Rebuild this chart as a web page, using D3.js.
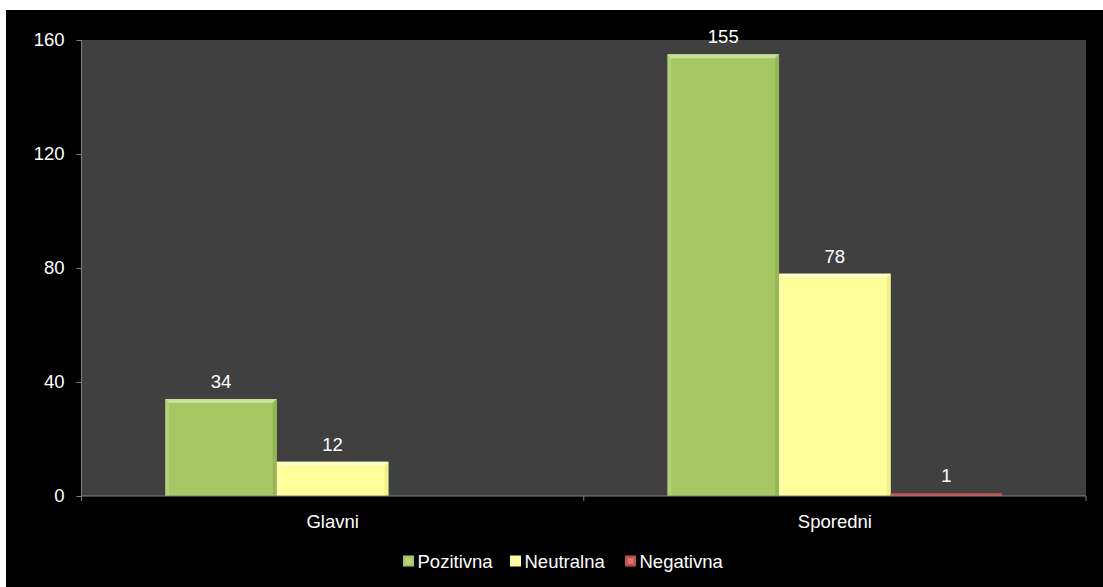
<!DOCTYPE html>
<html><head><meta charset="utf-8">
<script src="https://cdn.jsdelivr.net/npm/d3@7"></script>
<style>
html,body{margin:0;padding:0;background:#fff;}
svg{display:block;font-family:"Liberation Sans",Arial,sans-serif;}
</style></head>
<body><svg id="c" width="1103" height="587"></svg>
<script>
const categories = ["Glavni", "Sporedni"];
const seriesNames = ["Pozitivna", "Neutralna", "Negativna"];
const pozitivna = [34, 155];
const neutralna = [12, 78];
const negativna = [null, 1];
const yTicks = [0, 40, 80, 120, 160];

const colors = {Pozitivna:"#A5C663", Neutralna:"#FFFF99", Negativna:"#C0504D"};
const light = {Pozitivna:"#C9E19A", Neutralna:"#FFFFC8", Negativna:"#DE8F8D"};
const dark = {Pozitivna:"#8BAE4E", Neutralna:"#E6E683", Negativna:"#9E3B38"};

const values = {Pozitivna: pozitivna, Neutralna: neutralna, Negativna: negativna};
const FS = 18.5;

const svg = d3.select("#c");
svg.append("rect").attr("x",6).attr("y",10).attr("width",1097).attr("height",577).attr("fill","#000");

const L=81.5, R=1086, T=40, B=496;
svg.append("rect").attr("x",L).attr("y",T).attr("width",R-L).attr("height",B-T).attr("fill","#404040");

const x0 = d3.scaleBand().domain(categories).range([L,R]).paddingInner(0).paddingOuter(0);
const x1 = d3.scaleBand().domain(seriesNames).range([0,x0.bandwidth()]).paddingInner(0).paddingOuter(0.75);
const y = d3.scaleLinear().domain([0,160]).range([B,T]);

// bars
const g = svg.append("g");
categories.forEach((c,ci)=>{
  seriesNames.forEach(s=>{
    const v = values[s][ci];
    if (v==null) return;
    const bx = x0(c)+x1(s), bw = x1.bandwidth();
    const by = y(v), bh = B-y(v);
    const bar = g.append("g");
    bar.append("rect").attr("x",bx).attr("y",by).attr("width",bw).attr("height",bh).attr("fill",colors[s]);
    const bev = Math.min(4, bh/2);
    if (bh>3) {
      bar.append("path").attr("d",`M${bx},${by}L${bx+bw},${by}L${bx+bw-bev},${by+bev}L${bx+bev},${by+bev}Z`).attr("fill",light[s]);
      bar.append("path").attr("d",`M${bx},${by}L${bx+bev},${by+bev}L${bx+bev},${B}L${bx},${B}Z`).attr("fill",light[s]).attr("opacity",0.4);
      bar.append("path").attr("d",`M${bx+bw},${by}L${bx+bw-bev},${by+bev}L${bx+bw-bev},${B}L${bx+bw},${B}Z`).attr("fill",dark[s]).attr("opacity",0.6);
    }
    g.append("text").attr("x",bx+bw/2).attr("y",by-11).attr("text-anchor","middle")
      .attr("fill","#fff").attr("font-size",FS).text(v);
  });
});

// y axis
const yAxis = d3.axisLeft(y).tickValues(yTicks).tickSize(5).tickPadding(12);
const ya = svg.append("g").attr("transform",`translate(${L},0)`).call(yAxis);
ya.select(".domain").attr("stroke","#808080").attr("d",`M0,${T}V${B}`);
ya.selectAll(".tick line").attr("stroke","#808080");
ya.selectAll(".tick text").attr("fill","#fff").attr("font-size",FS).attr("font-family","Liberation Sans, Arial, sans-serif");

// x axis
const xa = svg.append("g").attr("transform",`translate(0,${B})`);
xa.append("line").attr("x1",L).attr("x2",R).attr("y1",0).attr("y2",0).attr("stroke","#808080");
const bounds = [L, x0("Sporedni"), R];
bounds.forEach(b=>xa.append("line").attr("x1",b).attr("x2",b).attr("y1",0).attr("y2",5).attr("stroke","#808080"));
categories.forEach(c=>{
  xa.append("text").attr("x",x0(c)+x0.bandwidth()/2).attr("y",32).attr("text-anchor","middle")
    .attr("fill","#fff").attr("font-size",FS).text(c);
});

// legend
const legX = [403, 510, 625];
const lg = svg.append("g");
seriesNames.forEach((s,i)=>{
  lg.append("rect").attr("x",legX[i]).attr("y",555.5).attr("width",11).attr("height",11).attr("fill",colors[s]);
  lg.append("rect").attr("x",legX[i]+2.5).attr("y",558).attr("width",6).attr("height",6).attr("fill",light[s]).attr("opacity",0.6);
  lg.append("text").attr("x",legX[i]+14.5).attr("y",567.5).attr("fill","#fff").attr("font-size",FS).text(s);
});
</script></body></html>
